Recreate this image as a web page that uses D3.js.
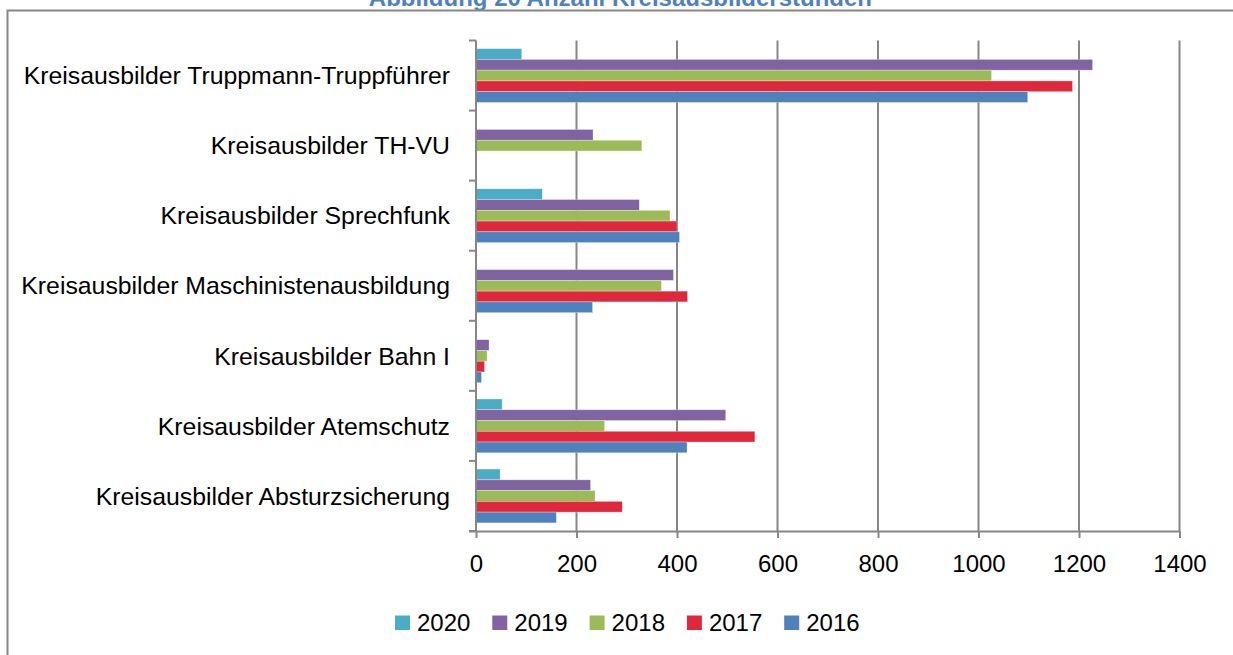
<!DOCTYPE html>
<html>
<head>
<meta charset="utf-8">
<script src="https://cdn.jsdelivr.net/npm/d3@7"></script>
<style>
  body { margin: 0; background: #fff; }
  svg text { font-family: "Liberation Sans", Arial, sans-serif; fill: #000; }
</style>
</head>
<body>
<div id="chart"></div>
<script>
// categories top -> bottom
const categories = [
  'Kreisausbilder Truppmann-Truppführer',
  'Kreisausbilder TH-VU',
  'Kreisausbilder Sprechfunk',
  'Kreisausbilder Maschinistenausbildung',
  'Kreisausbilder Bahn I',
  'Kreisausbilder Atemschutz',
  'Kreisausbilder Absturzsicherung'
];
const years = ['2020', '2019', '2018', '2017', '2016'];
const colors = ['#4bacc6', '#8064a2', '#9bbb59', '#e0283c', '#4f81bd'];

// values per year, same order as categories
const v2020 = [91, 0, 132, 0, 0, 52, 48];
const v2019 = [1227, 233, 325, 393, 26, 497, 228];
const v2018 = [1026, 330, 386, 369, 22, 256, 237];
const v2017 = [1187, 0, 400, 421, 17, 555, 291];
const v2016 = [1098, 0, 405, 232, 11, 420, 160];
const series = [v2020, v2019, v2018, v2017, v2016];

const xTicks = [0, 200, 400, 600, 800, 1000, 1200, 1400];

const width = 1233, height = 655;
const svg = d3.select('#chart').append('svg')
  .attr('width', width).attr('height', height);

// title (mostly cut off at the top edge)
svg.append('text')
  .attr('x', 872).attr('y', 6)
  .attr('text-anchor', 'end')
  .style('font-weight', 'bold')
  .style('font-size', '24px')
  .style('fill', '#4f81bd')
  .text('Abbildung 20 Anzahl Kreisausbilderstunden');

// chart frame
svg.append('path')
  .attr('d', 'M7.5,655 V10.5 H1233')
  .attr('fill', 'none')
  .attr('stroke', '#868686')
  .attr('stroke-width', 2);

const x = d3.scaleLinear().domain([0, 1400]).range([476, 1179.5]);
const y = d3.scaleBand().domain(categories).range([40.5, 531]);
const inner = d3.scaleBand().domain(years).range([0, y.bandwidth()]).paddingOuter(0.756);

// gridlines
svg.append('g').selectAll('line')
  .data(xTicks.slice(1))
  .join('line')
  .attr('x1', d => x(d)).attr('x2', d => x(d))
  .attr('y1', 40.5).attr('y2', 531)
  .attr('stroke', '#868686').attr('stroke-width', 2);

// bars
const groups = svg.append('g').selectAll('g')
  .data(years)
  .join('g')
  .attr('fill', (d, i) => colors[i]);

groups.selectAll('rect')
  .data((yr, i) => categories.map((c, j) => ({ c, yr, v: series[i][j] })))
  .join('rect')
  .attr('x', x(0))
  .attr('y', d => y(d.c) + inner(d.yr))
  .attr('width', d => x(d.v) - x(0))
  .attr('height', inner.bandwidth())
  .attr('stroke', 'rgba(255,255,255,0.5)')
  .attr('stroke-width', 0.6);

// x axis
const xAxis = svg.append('g')
  .attr('transform', 'translate(0,531)')
  .call(d3.axisBottom(x).tickValues(xTicks).tickFormat(d3.format('d')).tickSize(7).tickPadding(17));
xAxis.select('.domain').attr('stroke', '#868686').attr('stroke-width', 2)
  .attr('d', 'M469,0.5H' + x(1400));
xAxis.selectAll('.tick line').attr('stroke', '#868686').attr('stroke-width', 2);
xAxis.selectAll('.tick text')
  .style('font-size', '24px')
  .style('font-family', '"Liberation Sans", Arial, sans-serif')
  .attr('fill', '#000');

// y axis
const yAxis = svg.append('g')
  .attr('transform', 'translate(476,0)');
yAxis.append('line')
  .attr('x1', 0).attr('x2', 0).attr('y1', 40.5).attr('y2', 531)
  .attr('stroke', '#868686').attr('stroke-width', 2);
const yEdges = categories.map(c => y(c)).concat([y.range()[1]]);
yAxis.selectAll('.ytick')
  .data(yEdges)
  .join('line')
  .attr('x1', -7).attr('x2', 0)
  .attr('y1', d => d).attr('y2', d => d)
  .attr('stroke', '#868686').attr('stroke-width', 2);
yAxis.selectAll('.ylab')
  .data(categories)
  .join('text')
  .attr('x', -26)
  .attr('y', d => y(d) + y.bandwidth() / 2)
  .attr('dy', '0.35em')
  .attr('text-anchor', 'end')
  .style('font-size', '24.8px')
  .text(d => d);

// legend
const legend = svg.append('g')
  .selectAll('g')
  .data(years)
  .join('g')
  .attr('transform', (d, i) => `translate(${395 + i * 97.3},615.5)`);
legend.append('rect')
  .attr('width', 15).attr('height', 14.5)
  .attr('fill', (d, i) => colors[i]);
legend.append('text')
  .attr('x', 22).attr('y', 15)
  .style('font-size', '24px')
  .text(d => d);
</script>
</body>
</html>
